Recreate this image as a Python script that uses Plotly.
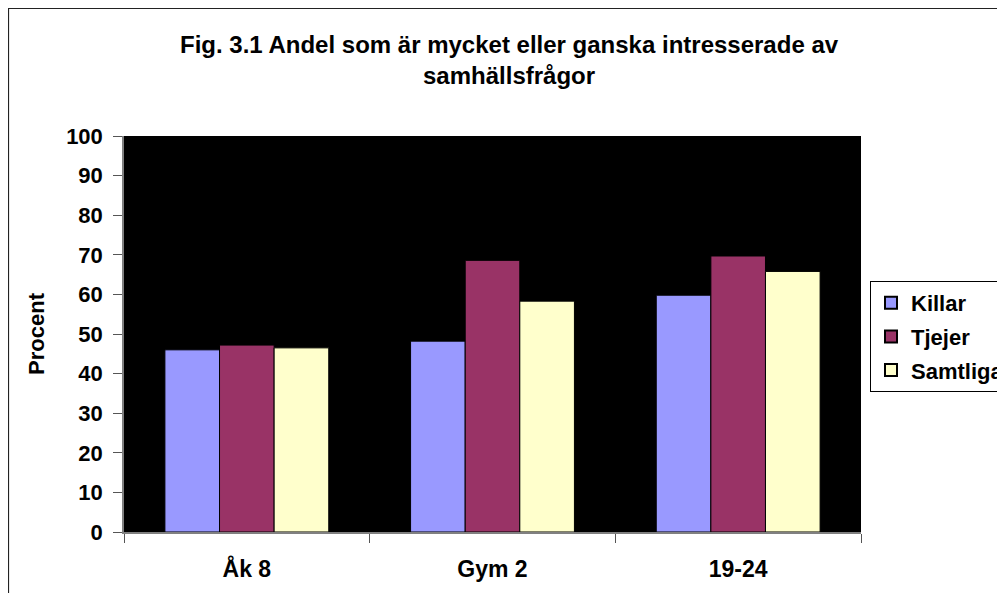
import plotly.graph_objects as go

categories = ["Åk 8", "Gym 2", "19-24"]
killar = [46.0, 48.2, 59.8]
tjejer = [47.2, 68.6, 69.7]
samtliga = [46.5, 58.3, 65.8]
series_names = ["Killar", "Tjejer", "Samtliga"]
series_colors = ["#9999FF", "#993366", "#FFFFCC"]
y_ticks = [0, 10, 20, 30, 40, 50, 60, 70, 80, 90, 100]

FONT = "Liberation Sans, Arial, sans-serif"

fig = go.Figure()
for name, vals, col in zip(series_names, [killar, tjejer, samtliga], series_colors):
    fig.add_trace(go.Bar(
        name=name, x=categories, y=vals, legendgroup=name,
        marker=dict(color=col, line=dict(color="#000000", width=1)),
    ))

# page body has an 8px margin: figure origin sits at screen (8, 8)
OFF = 8
W, H = 997, 585
L, R, T, B = 124 - OFF, 144, 136 - OFF, 61
pw, ph = W - L - R, H - T - B

def px_x(sx):
    return (sx - OFF - L) / pw

def px_y(sy):
    return 1 - (sy - OFF - T) / ph

fig.update_layout(
    width=W, height=H,
    margin=dict(l=L, r=R, t=T, b=B, autoexpand=False),
    paper_bgcolor="white",
    plot_bgcolor="black",
    barmode="group",
    bargap=0.333,
    bargroupgap=0,
    font=dict(family=FONT, size=22, color="black"),
    showlegend=True,
    legend=dict(
        x=px_x(870), y=px_y(281), xanchor="left", yanchor="top",
        bgcolor="white", bordercolor="#000000", borderwidth=1,
        font=dict(family=FONT, size=22, color="black", weight="bold"),
        traceorder="grouped", tracegroupgap=2,
        itemsizing="constant",
    ),
    xaxis=dict(
        type="category",
        showgrid=False, zeroline=False,
        showline=True, linecolor="#808080", linewidth=1.5,
        ticks="outside", tickson="boundaries", ticklen=9, tickcolor="#555555", tickwidth=1,
        tickfont=dict(family=FONT, size=23, color="black", weight="bold"),
        ticklabelstandoff=16,
        range=[-0.5, 2.5],
    ),
    yaxis=dict(
        range=[0, 100], tickvals=y_ticks,
        showgrid=False, zeroline=False,
        showline=True, linecolor="#808080", linewidth=1.5,
        ticks="outside", ticklen=9, tickcolor="#555555", tickwidth=1,
        tickfont=dict(family=FONT, size=22, color="black", weight="bold"),
        ticklabelstandoff=6,
        title=dict(text="<b>Procent</b>", font=dict(family=FONT, size=22, color="black"), standoff=15),
    ),
    annotations=[dict(
        text="<b>Fig. 3.1 Andel som är mycket eller ganska intresserade av<br>samhällsfrågor</b>",
        xref="paper", yref="paper", x=px_x(510), y=px_y(59.5),
        xanchor="center", yanchor="middle", showarrow=False, align="center",
        font=dict(family=FONT, size=24, color="black"),
    )],
    shapes=[dict(
        type="rect", xref="paper", yref="paper",
        x0=px_x(8.5), x1=px_x(1030), y0=px_y(620), y1=px_y(8.5),
        line=dict(color="#222222", width=1.2), fillcolor="rgba(0,0,0,0)", layer="below",
    )],
)

fig.write_html("out.html")
